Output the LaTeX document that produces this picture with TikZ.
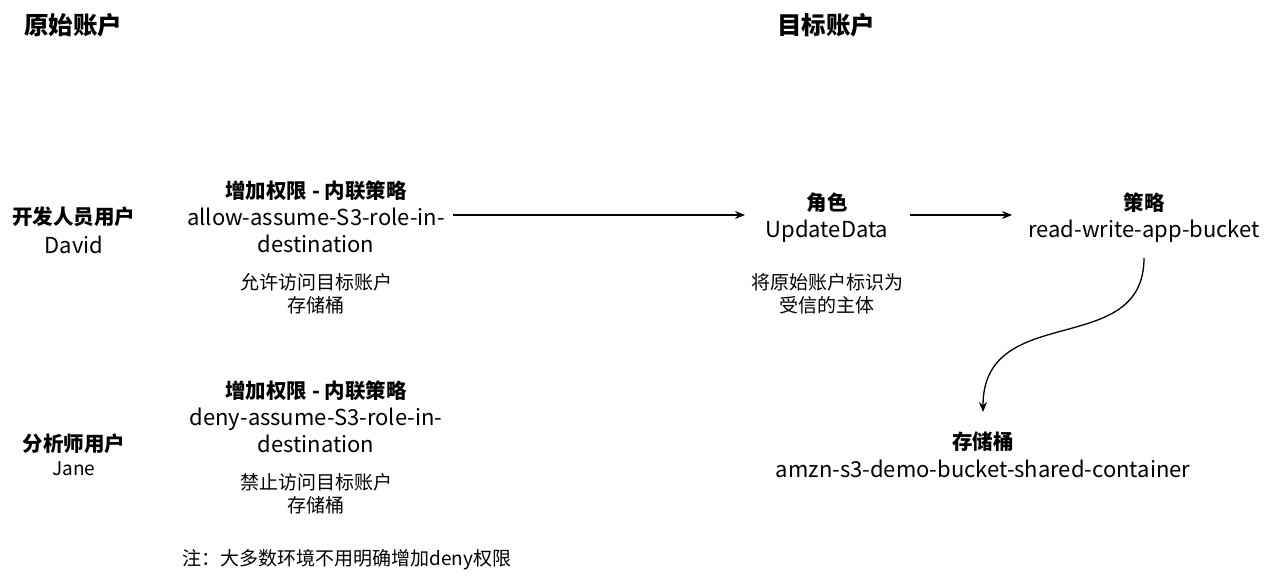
\documentclass[tikz,border=0pt]{standalone}
\usepackage{fontspec}
\setmainfont{Noto Sans CJK SC}
\usetikzlibrary{arrows.meta}
\begin{document}
\begin{tikzpicture}[x=1pt,y=-1pt,
  t/.style={align=center,inner sep=0pt,font=\fontsize{22}{27}\selectfont},
  h/.style={align=center,inner sep=0pt,font=\bfseries\fontsize{20.5}{24}\selectfont},
  c/.style={align=center,inner sep=0pt,font=\fontsize{19}{23}\selectfont},
  ar/.style={-{Stealth[length=10pt,width=8pt]},line width=1.3pt}]
\useasboundingbox (0,0) rectangle (1269,585);
\node[h,font=\bfseries\fontsize{24.5}{28}\selectfont] (src) at (73,25) {原始账户};
\node[h,font=\bfseries\fontsize{24.5}{28}\selectfont] (dst) at (826,25) {目标账户};
\node[h] (dev) at (74,217) {开发人员用户};
\node[t] (david) at (74,245) {David};
\node[h] (ana) at (74,444) {分析师用户};
\node[c] (jane) at (74,469) {Jane};
\node[h] (p1h) at (316,191) {增加权限 - 内联策略};
\node[t] (p1) at (316,230) {allow-assume-S3-role-in-\\destination};
\node[c] (p1c) at (316,294) {允许访问目标账户\\存储桶};
\node[h] (p2h) at (316,391) {增加权限 - 内联策略};
\node[t] (p2) at (316,430) {deny-assume-S3-role-in-\\destination};
\node[c] (p2c) at (316,494) {禁止访问目标账户\\存储桶};
\node[c] (note) at (347,560) {注：大多数环境不用明确增加deny权限};
\node[h] (roleh) at (827,203) {角色};
\node[t] (role) at (827,231) {UpdateData};
\node[c] (rolec) at (827,294) {将原始账户标识为\\受信的主体};
\node[h] (polh) at (1144,203) {策略};
\node[t] (pol) at (1144,231) {read-write-app-bucket};
\node[h] (bh) at (983,442) {存储桶};
\node[t] (b) at (983,469) {amzn-s3-demo-bucket-shared-container};
\coordinate (a1s) at (453,215); \coordinate (a1e) at (745,215);
\draw[ar] (a1s) -- (a1e);
\coordinate (a2s) at (910,215); \coordinate (a2e) at (1012,215);
\draw[ar] (a2s) -- (a2e);
\coordinate (cs) at (1144,258); \coordinate (ce) at (983,412);
\draw[ar] (cs) .. controls (1144,360) and (983,300) .. (ce);
\end{tikzpicture}
\end{document}
